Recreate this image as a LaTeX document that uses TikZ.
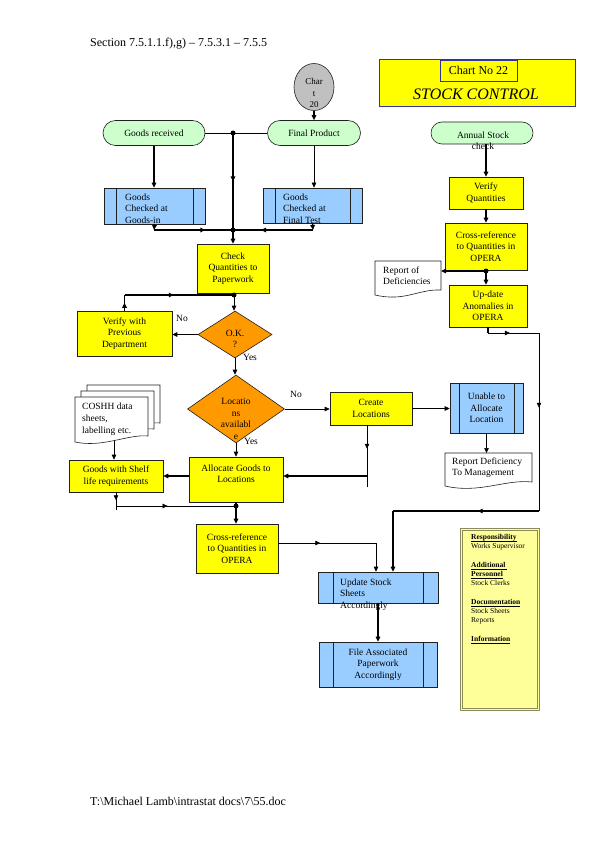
\documentclass[tikz,border=0pt]{standalone}
\usepackage{fontspec}
\setmainfont{Liberation Serif}
\usetikzlibrary{arrows.meta,shapes.geometric,shapes.misc,decorations.markings,calc}
\definecolor{yel}{HTML}{FFFF00}
\definecolor{org}{HTML}{FF9900}
\definecolor{blu}{HTML}{99CCFF}
\definecolor{grn}{HTML}{CCFFCC}
\definecolor{gry}{HTML}{C0C0C0}
\definecolor{pale}{HTML}{FFFF99}
\definecolor{bord}{HTML}{202020}
\definecolor{mynavy}{HTML}{333399}
\definecolor{olv}{HTML}{8C8C5A}
\newcommand\myul[1]{\setbox0\hbox{#1}\rlap{\rule[-1.2pt]{\wd0}{0.4pt}}\box0}
\tikzset{
  Wt/.tip={Triangle[length=5pt,width=4.5pt]},
  thk/.style={line width=1.6pt},
  thn/.style={line width=0.6pt},
  ar/.style={-Wt},
  marr/.style={postaction={decorate},decoration={markings,mark=at position #1 with {\arrow{Wt}}}},
  marr/.default=0.5,
  bx/.style={draw=bord,line width=0.6pt,align=center,font=\fontsize{9.5}{11.5}\selectfont,inner sep=1pt},
  ybox/.style={bx,fill=yel,rectangle},
  bbox/.style={bx,fill=blu,rectangle},
  pproc/.style={bbox,path picture={\draw[bord,line width=0.6pt]
     ([xshift=#1]path picture bounding box.north west) -- ([xshift=#1]path picture bounding box.south west)
     ([xshift=-#1]path picture bounding box.north east) -- ([xshift=-#1]path picture bounding box.south east);}},
  term/.style={bx,fill=grn,rounded rectangle},
  dia/.style={bx,fill=org,diamond,inner sep=0pt},
  txt/.style={font=\fontsize{9.5}{11.5}\selectfont,align=center,inner sep=0pt},
  ltxt/.style={txt,align=left,anchor=north west},
  docsh/.style={draw=bord,line width=0.6pt,fill=white},
}
\begin{document}
\begin{tikzpicture}[x=1pt,y=-1pt]
\useasboundingbox[fill=white] (0,0) rectangle (595,842);

% title and footer
\node[anchor=west,font=\fontsize{12}{14}\selectfont,inner sep=0] (title) at (90,44) {Section 7.5.1.1.f),g) – 7.5.3.1 – 7.5.5};
\node[anchor=west,font=\fontsize{12}{14}\selectfont,inner sep=0] (foot) at (90,801) {T:\textbackslash Michael Lamb\textbackslash intrastat docs\textbackslash 7\textbackslash 55.doc};

% chart header
\node[draw=mynavy,line width=1pt,fill=yel,minimum width=196pt,minimum height=47pt,inner sep=0] (cbox) at (477,83.5) {};
\node[draw=mynavy,line width=0.8pt,fill=yel,minimum width=77pt,minimum height=21pt,inner sep=0,font=\fontsize{12}{14}\selectfont] (cno) at (478.5,70.5) {Chart No 22};
\node[font=\fontsize{16}{18}\selectfont\itshape,inner sep=0] (sc) at (476,94) {STOCK CONTROL};

% chart 20 connector circle
\node[ellipse,draw=bord,line width=0.6pt,fill=gry,minimum width=40pt,minimum height=47pt,inner sep=0] (c20) at (314,87) {};
\node[txt,font=\fontsize{9}{11.5}\selectfont] (c20t) at (314,93) {Char\\t\\20};

% terminals
\node[term,minimum width=104pt,minimum height=25pt] (gr) at (154,133) {Goods received};
\node[term,minimum width=95pt,minimum height=25pt] (fp) at (314,133) {Final Product};
\node[term,minimum width=104pt,minimum height=22pt] (asc) at (482,133) {};
\node[txt] (asct) at (483,141) {Annual Stock\\check};

% checks
\node[pproc=12pt,minimum width=101pt,minimum height=36pt] (gi) at (154.5,206) {};
\node[ltxt] (git) at (125,193.5) {Goods\\Checked at\\Goods-in};
\node[pproc=12pt,minimum width=99pt,minimum height=35pt] (gf) at (312.5,205.5) {};
\node[ltxt] (gft) at (283,193.5) {Goods\\Checked at\\Final Test};

\node[ybox,minimum width=72pt,minimum height=49pt] (cq) at (233,268.5) {Check\\Quantities to\\Paperwork};
\node[ybox,minimum width=95pt,minimum height=45pt] (vp) at (124.5,333.5) {Verify with\\Previous\\Department};

\node[dia,minimum width=74pt,minimum height=47pt] (ok) at (235,334.5) {};
\node[txt] (okt) at (235,339) {O.K.\\?};
\node[txt] (no1) at (182,318) {No};
\node[txt] (yes1) at (250,357) {Yes};

\node[dia,minimum width=97pt,minimum height=68pt] (loc) at (236,409) {};
\node[txt] (loct) at (236,419) {Locatio\\ns\\availabl\\e};
\node[txt] (no2) at (296,394) {No};
\node[txt] (yes2) at (251,441) {Yes};

\node[ybox,minimum width=82pt,minimum height=33pt] (cl) at (371,408.5) {Create\\Locations};
\node[pproc=9pt,minimum width=73pt,minimum height=50pt] (ua) at (486.5,408) {Unable to\\Allocate\\Location};

% report deficiency to management
\draw[docsh] (445,453) -- (532,453) -- (532,482) .. controls (505,479) and (480,494) .. (445,486) -- cycle;
\node[ltxt] (rdm) at (452,457.5) {Report Deficiency\\To Management};
\coordinate (rdmtop) at (488,453);

% COSHH stacked documents
\draw[docsh] (87,385) -- (160,385) -- (160,423) .. controls (140,421) and (115,435) .. (87,429) -- cycle;
\draw[docsh] (81,391) -- (154,391) -- (154,429) .. controls (134,427) and (109,441) .. (81,435) -- cycle;
\draw[docsh] (75,397) -- (148,397) -- (148,436) .. controls (128,434) and (103,448) .. (75,442) -- cycle;
\node[ltxt,font=\fontsize{9.5}{12}\selectfont] (coshh) at (82,402.5) {COSHH data\\sheets,\\labelling etc.};
\coordinate (coshhb) at (114,441);

\node[ybox,minimum width=94pt,minimum height=32pt] (gsl) at (116,476) {Goods with Shelf\\life requirements};
\node[ybox,minimum width=94pt,minimum height=45pt] (al) at (236,479.5) {Allocate Goods to\\Locations\\\mbox{}};
\node[ybox,minimum width=82pt,minimum height=49pt] (cr2) at (237,548.5) {Cross-reference\\to Quantities in\\OPERA};

\node[pproc=15pt,minimum width=120pt,minimum height=31pt] (usa) at (378,587.5) {};
\node[ltxt] (usat) at (340,578.5) {Update Stock\\Sheets\\Accordingly};
\node[pproc=14pt,minimum width=118pt,minimum height=45pt] (fap) at (378,664.5) {File Associated\\Paperwork\\Accordingly};

% right column
\node[ybox,minimum width=74pt,minimum height=32pt] (vq) at (486,193) {Verify\\Quantities};
\node[ybox,minimum width=82pt,minimum height=47pt] (cr1) at (486,246.5) {Cross-reference\\to Quantities in\\OPERA};
\node[ybox,minimum width=78pt,minimum height=42pt] (ud) at (488,306) {Up-date\\Anomalies in\\OPERA};

\draw[docsh] (375,261) -- (441,261) -- (441,290) .. controls (418,289) and (405,302) .. (375,295) -- cycle;
\node[ltxt] (rod) at (383,266.5) {Report of\\Deficiencies};
\coordinate (rodr) at (441,271);

% responsibility panel
\node[draw=olv,fill=pale,line width=0.6pt,minimum width=79pt,minimum height=182pt,inner sep=0] (resp) at (500,619) {};
\draw[olv,line width=0.5pt] ($(resp.north west)+(2.5,2.5)$) rectangle ($(resp.south east)+(-2.5,-2.5)$);
\node[anchor=north west,inner sep=0,align=left,font=\fontsize{7.5}{9}\selectfont] (respt) at (471,534.5)
 {\myul{\textbf{Responsibility}}\\Works Supervisor\\[10pt]
  \myul{\textbf{Additional }}\\\myul{\textbf{Personnel}}\\Stock Clerks\\[10pt]
  \myul{\textbf{Documentation}}\\Stock Sheets\\Reports\\[10pt]
  \myul{\textbf{Information}}};

% ---------- connectors ----------
\coordinate (j1) at (233,133);
\coordinate (j2) at (233,230);
\draw[thn] (gr.east) -- (fp.west);
\draw[thk,marr] (j1) -- (j2);
\draw[thk,ar] (j2) -- (j2 |- cq.north);
\draw[thk,ar] (c20.south) -- (fp.north);
\draw[thk,ar] (gr.south) -- (gr.south |- gi.north);
\draw[thn,ar] (fp.south) -- (fp.south |- gf.north);
\coordinate (c1) at (154,230);
\coordinate (c2) at (313,230);
\draw[thk,ar] (gi.south) -- (c1);
\draw[thk,marr=0.65] (c1) -- (j2);
\draw[thk,ar] (gf.south) -- (c2);
\draw[thk,marr=0.65] (c2) -- (j2);

\coordinate (j3) at (234,295);
\coordinate (c3) at (124.5,295);
\draw[thn] (cq.south) -- (j3);
\draw[thn,ar] (j3) -- (j3 |- ok.north);
\draw[thk,marr] (vp.north) -- (c3);
\draw[thk,marr=0.45] (c3) -- (j3);
\draw[thk,ar] (ok.west) -- (ok.west -| vp.east);
\draw[thn,ar] (ok.south) -- (ok.south |- loc.north);
\draw[thn,ar] (loc.east) -- (loc.east -| cl.west);
\draw[thn,ar] (cl.east) -- (cl.east -| ua.west);
\draw[thn,ar] (ua.south) -- (ua.south |- rdmtop);

\coordinate (c4) at (367,487);
\coordinate (c5) at (367,476);
\draw[thn,marr=0.38] (cl.south -| c4) -- (c4);
\draw[thk,ar] (c5) -- (c5 -| al.east);
\draw[thn,ar] (loc.south) -- (loc.south |- al.north);
\draw[thk,ar] (al.west |- gsl.east) -- (gsl.east);
\draw[thn,ar] (coshhb) -- (coshhb |- gsl.north);

\coordinate (c10) at (116,510);
\coordinate (c12) at (116,506);
\coordinate (j5) at (236,506);
\draw[thn,marr=0.45] (gsl.south) -- (c10);
\draw[thn,marr=0.43] (c12) -- (j5);
\draw[thk] (al.south) -- (j5);
\draw[thk,ar] (j5) -- (j5 |- cr2.north);

\coordinate (c11) at (376,543);
\draw[thn,marr=0.43] (cr2.east |- c11) -- (c11);
\draw[thn,ar] (c11) -- (c11 |- usa.north);
\draw[thk,ar] (usa.south) -- (fap.north);

\draw[thk,ar] (vq.north |- asc.south) -- (vq.north);
\draw[thk,ar] (vq.south) -- (cr1.north);
\coordinate (j4) at (486,271);
\draw[thk] (cr1.south) -- (j4);
\draw[thk,ar] (j4) -- (j4 |- ud.north);
\draw[thk,ar] (j4) -- (rodr);

\coordinate (c6) at (488,333);
\coordinate (c7) at (539,333);
\coordinate (c8) at (539,511);
\coordinate (c9) at (393,511);
\draw[thk] (ud.south) -- (c6);
\draw[thn,marr=0.43] (c6) -- (c7);
\draw[thn,marr=0.42] (c7) -- (c8);
\draw[thk,marr=0.42] (c8) -- (c9);
\draw[thk,ar] (c9) -- (c9 |- usa.north);

\foreach \j in {j1,j2,j3,j4,j5} \fill (\j) circle (2.5pt);
\end{tikzpicture}
\end{document}
